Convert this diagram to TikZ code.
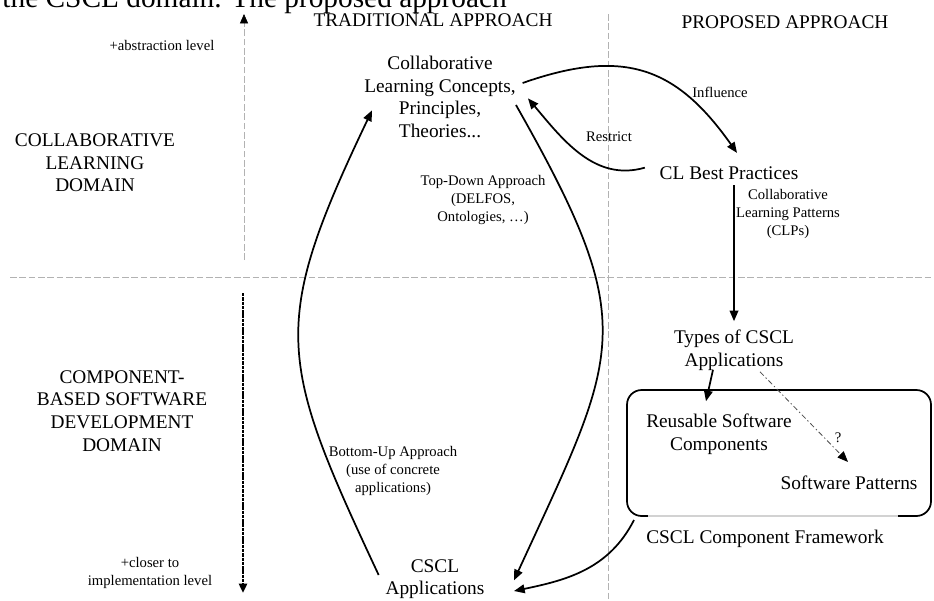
\documentclass[tikz,border=0pt]{standalone}
\usepackage{fontspec}
\setmainfont{Liberation Serif}
\usetikzlibrary{arrows.meta}
\usetikzlibrary{positioning}

\begin{document}
\begin{tikzpicture}[x=0.75pt,y=-0.75pt,
  big/.style={font=\fontsize{14.5}{17}\selectfont,align=center,inner sep=1pt},
  lbl/.style={font=\fontsize{11}{13.5}\selectfont,align=center,inner sep=1pt},
  conn/.style={line width=1.3pt,-{Triangle[length=8pt,width=6.5pt]}},
  quad/.style={gray!60,line width=0.5pt,dash pattern=on 5pt off 2pt}]
\useasboundingbox (0,0) rectangle (934,600);

% body text of the page, cut by the top edge
\node[font=\fontsize{22}{26}\selectfont,anchor=base east,inner sep=0] (body) at (507,7) {the CSCL domain. The proposed approach};

% quadrants
\coordinate (vtop) at (608,14);
\coordinate (vbot) at (608,600);
\coordinate (hleft) at (10,277);
\coordinate (hright) at (934,277);
\draw[quad] (vtop) -- (vbot);
\draw[quad] (hleft) -- (hright);

% abstraction axis
\coordinate (upfrom) at (244,260);
\coordinate (upto) at (244,14);
\coordinate (dnfrom) at (243,293);
\coordinate (dnto) at (243,593);
\draw[quad,-{Triangle[length=7pt,width=6pt,color=black]}] (upfrom) -- (upto);
\draw[line width=2pt,dash pattern=on 2.6pt off 0.6pt,-{Triangle[length=7pt,width=6pt]}] (dnfrom) -- (dnto);
\node[lbl] (absl) at (162,45) {+abstraction level};
\node[lbl] (impl) at (150,573) {+closer to\\implementation level};

% headings
\node[big] (cld) at (95,163) {COLLABORATIVE\\LEARNING\\DOMAIN};
\node[big] (cbd) at (122,411) {COMPONENT-\\BASED SOFTWARE\\DEVELOPMENT\\DOMAIN};
\node[big] (trad) at (433,20) {TRADITIONAL APPROACH};
\node[big] (prop) at (785,22) {PROPOSED APPROACH};

% concepts
\node[big] (clc) at (440,97) {Collaborative\\Learning Concepts,\\Principles,\\Theories...};
\node[big] (bp) at (729,173) {CL Best Practices};
\node[big] (types) at (734,350) {Types of CSCL\\Applications};
\node[draw,line width=1.3pt,outer sep=0pt,rounded corners=11pt,minimum width=228pt,minimum height=94.5pt] (frame) at (779,453) {};
\draw[gray!35,line width=1.5pt] ([xshift=-98pt]frame.south) -- ([xshift=89pt]frame.south);
\node[big] (reuse) at (719,434) {Reusable Software\\Components};
\node[big] (pat) at (849,483) {Software Patterns};
\node[big] (fw) at (765,539) {CSCL Component Framework};
\node[big] (cscl) at (435,579) {CSCL\\Applications};

% approaches
\draw[conn] ([shift={(-4pt,3pt)}]cscl.west) .. controls (278,360) and (269,326) .. ([shift={(7pt,-10pt)}]clc.west);
\draw[conn] ([shift={(-1pt,-6pt)}]clc.east) .. controls (642,327) and (620,350) .. ([shift={(21pt,-1pt)}]cscl.east);
\node[lbl] (tdl) at (483,200) {Top-Down Approach\\(DELFOS,\\Ontologies, …)};
\node[lbl] (bul) at (393,471) {Bottom-Up Approach\\(use of concrete\\applications)};

\draw[conn] ([shift={(4pt,10.5pt)}]clc.east) .. controls (625,47) and (677,68) .. ([shift={(6pt,9pt)}]bp.north);
\node[lbl] (infl) at (720,92) {Influence};
\draw[conn] ([shift={(-10pt,4pt)}]bp.west) .. controls (595,182) and (563,140) .. ([shift={(8pt,-1pt)}]clc.east);
\node[lbl] (restr) at (609,137) {Restrict};

\draw[conn] ([shift={(3.75pt,-3pt)}]bp.south) -- ([yshift=5.25pt]types.north);
\node[lbl] (clp) at (788,214) {Collaborative\\Learning Patterns\\(CLPs)};

\draw[conn] ([shift={(-15.75pt,1.5pt)}]types.south) -- ([shift={(-9.75pt,8.25pt)}]reuse.north);
\draw[black!70,line width=0.6pt,dash pattern=on 4pt off 2pt on 1pt off 2pt,-{Triangle[length=8pt,width=6.5pt,color=black]}] ([xshift=19.5pt]types.south) -- ([shift={(-0.75pt,9.4pt)}]pat.north);
\node[lbl] (qm) at (838,438) {?};

\draw[conn] ([shift={(5.25pt,-3pt)}]frame.south west) .. controls (609,569) and (567,580) .. ([shift={(21pt,-9pt)}]cscl.east);

\end{tikzpicture}
\end{document}
